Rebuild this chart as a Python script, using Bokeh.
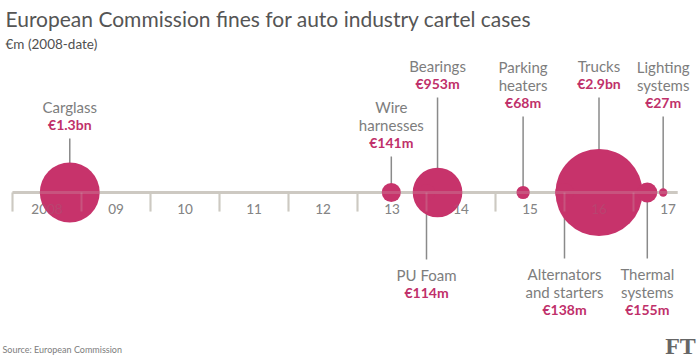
import numpy as np
from bokeh.plotting import figure
from bokeh.models import ColumnDataSource, Range1d, Label
from bokeh.core.properties import value
from bokeh.embed import file_html
from bokeh.resources import INLINE

# ---- data ----
cases = ["Carglass", "Wire harnesses", "Bearings", "PU Foam", "Parking heaters",
         "Alternators and starters", "Trucks", "Thermal systems", "Lighting systems"]
name_lines = [["Carglass"], ["Wire", "harnesses"], ["Bearings"], ["PU Foam"],
              ["Parking", "heaters"], ["Alternators", "and starters"], ["Trucks"],
              ["Thermal", "systems"], ["Lighting", "systems"]]
dates = [2008.83, 2013.49, 2014.16, 2014.0, 2015.4, 2016.0, 2016.5, 2017.2, 2017.43]
fines = [1384, 141, 953, 114, 68, 138, 2926, 155, 27]
fine_labels = ["€1.3bn", "€141m", "€953m", "€114m", "€68m", "€138m", "€2.9bn", "€155m", "€27m"]
years = list(range(2008, 2018))
year_labels = ["2008", "09", "10", "11", "12", "13", "14", "15", "16", "17"]

# ---- layout (pixel rows for the labels) ----
label_side = ["above", "above", "above", "below", "above", "below", "above", "below", "above"]
value_row = [124, 142, 83, 292, 102, 309, 83, 309, 102]
AXIS_Y = 192
LINE_H = 18
MAX_R = 43.5

PINK = "#c7336b"
GREY_TXT = "#7d7d7d"
AXIS_C = "#cdc9c2"
FONT = value("Lato")

W, H = 700, 358
px0 = 12  # x pixel of 2008
ppy = 69.0  # pixels per year
x_start = 2008 + (0 - px0) / ppy
x_end = 2008 + (W - px0) / ppy

p = figure(width=W, height=H, output_backend="svg", toolbar_location=None,
           x_range=Range1d(x_start, x_end), y_range=Range1d(H, 0),
           min_border=0, background_fill_color="white", border_fill_color="white",
           outline_line_color=None)
p.axis.visible = False
p.grid.visible = False

axis_end = 2017.64

def draw_axis(alpha):
    p.line(x=[years[0], axis_end], y=[AXIS_Y, AXIS_Y], line_color=AXIS_C, line_width=3, line_alpha=alpha)
    p.segment(x0=years, y0=[AXIS_Y] * len(years), x1=years, y1=[AXIS_Y + 19] * len(years),
              line_color=AXIS_C, line_width=2, line_alpha=alpha)
    p.text(x=[y + 0.5 for y in years], y=[AXIS_Y + 16] * len(years), text=year_labels,
           text_font=FONT, text_font_size="13.5px", text_color="#858585", text_alpha=alpha,
           text_align="center", text_baseline="middle")

draw_axis(1.0)

# leader lines and labels
lx0, ly0, lx1, ly1 = [], [], [], []
tx, ty, tt = [], [], []
for d, side, vr, lines in zip(dates, label_side, value_row, name_lines):
    n = len(lines)
    for k, ln in enumerate(lines):
        tx.append(d); ty.append(vr - LINE_H * (n - k)); tt.append(ln)
    if side == "above":
        lx0.append(d); ly0.append(vr + 14); lx1.append(d); ly1.append(AXIS_Y)
    else:
        lx0.append(d); ly0.append(AXIS_Y); lx1.append(d); ly1.append(vr - LINE_H * n - 15)

p.segment(x0=lx0, y0=ly0, x1=lx1, y1=ly1, line_color="#8a8a8a", line_width=1.5)

# bubbles (area-proportional)
order = np.argsort(fines)[::-1]
sizes = 2 * MAX_R * np.sqrt(np.array(fines, dtype=float) / max(fines))
src = ColumnDataSource(dict(x=[dates[i] for i in order], y=[AXIS_Y] * len(order),
                            s=[sizes[i] for i in order]))
p.scatter(x="x", y="y", size="s", source=src, marker="circle",
          fill_color=PINK, line_color=None)

# faint axis showing through bubbles
draw_axis(0.22)

p.text(x=tx, y=ty, text=tt, text_font=FONT, text_font_size="15px", text_color=GREY_TXT,
       text_align="center", text_baseline="middle")
p.text(x=dates, y=value_row, text=fine_labels, text_font=FONT, text_font_size="14px",
       text_font_style="bold", text_color="#c0306a", text_align="center", text_baseline="middle")

# titles
p.add_layout(Label(x=5, y=H - 18, x_units="screen", y_units="screen",
                   text="European Commission fines for auto industry cartel cases",
                   text_font="Lato", text_font_size="21px", text_color="#555555",
                   text_baseline="middle"))
p.add_layout(Label(x=5, y=H - 43, x_units="screen", y_units="screen",
                   text="€m (2008-date)", text_font="Lato", text_font_size="13.5px",
                   text_color="#505050", text_baseline="middle"))
p.add_layout(Label(x=2, y=9, x_units="screen", y_units="screen",
                   text="Source: European Commission", text_font="Lato", text_font_size="9px",
                   text_color="#7d7d7d", text_baseline="middle"))
p.add_layout(Label(x=680, y=13, x_units="screen", y_units="screen",
                   text="FT", text_font="Liberation Serif", text_font_size="24px",
                   text_font_style="bold", text_color="#666666", text_baseline="middle",
                   text_align="center"))

open("out.html", "w").write(file_html(p, INLINE))
